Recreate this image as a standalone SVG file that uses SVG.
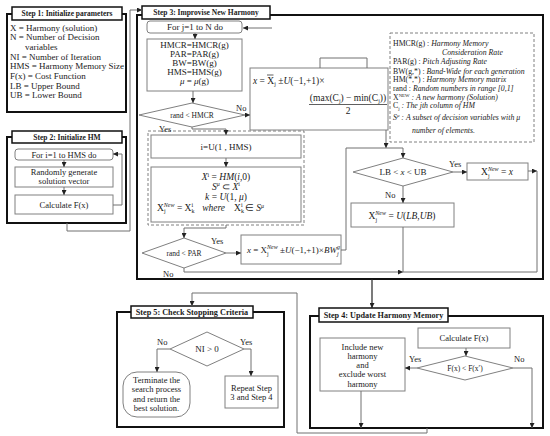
<svg xmlns="http://www.w3.org/2000/svg" width="550" height="436" viewBox="0 0 550 436">
<defs>
<marker id="ah" markerWidth="5" markerHeight="5" refX="5" refY="2.5" orient="auto" markerUnits="userSpaceOnUse"><path d="M0,0 L5,2.5 L0,5 z" fill="#222"/></marker>
<style>
text{font-family:"Liberation Serif",serif;fill:#1a1a1a;font-size:9px}
.tt{font-weight:bold;font-size:7.5px;text-anchor:middle}
.tt2{font-weight:bold;font-size:8.2px;text-anchor:middle}
.step{fill:none;stroke:#111;stroke-width:2}
.title{fill:#fff;stroke:#111;stroke-width:1.5}
.box{fill:#fff;stroke:#808080;stroke-width:1}
.dash{fill:none;stroke:#808080;stroke-width:1;stroke-dasharray:3,2}
.c{fill:none;stroke:#707070;stroke-width:1}
.ca{marker-end:url(#ah)}
.mid{text-anchor:middle}
.s85{font-size:8.5px}
.s75{font-size:7.5px}
.i{font-style:italic}
.sb{font-size:6px}
.lg{font-size:7.8px}
.m{font-size:9.5px}
</style>
</defs>
<rect width="550" height="436" fill="#fff"/>

<g id="step1">
<rect class="step" x="7" y="14" width="119" height="98"/>
<rect class="title" x="12" y="7" width="110" height="13"/>
<text class="tt" x="67" y="16.3">Step 1: Initialize parameters</text>
<text x="10" y="31.3">X = Harmony (solution)</text>
<text x="10" y="40.3">N = Number of Decision</text>
<text x="25" y="49.7">variables</text>
<text x="10" y="59.7">NI = Number of  Iteration</text>
<text x="10" y="69.3">HMS = Harmony Memory Size</text>
<text x="10" y="79">F(x) = Cost Function</text>
<text x="10" y="89">LB = Upper Bound</text>
<text x="10" y="98">UB = Lower Bound</text>
</g>

<g id="step2">
<rect class="step" x="7" y="137" width="119" height="86"/>
<rect class="title" x="12" y="131" width="110" height="12"/>
<text class="tt" x="67" y="139.8">Step 2: Initialize HM</text>
<rect class="box" x="15" y="149" width="98" height="11" rx="3"/>
<text class="mid s85" x="64" y="157.5">For i=1 to HMS do</text>
<rect class="box" x="15" y="167" width="98" height="20"/>
<text class="mid s85" x="64" y="174.7">Randomly generate</text>
<text class="mid s85" x="64" y="183.5">solution vector</text>
<rect class="box" x="15" y="195" width="98" height="19"/>
<text class="mid s85" x="64" y="207.5">Calculate F(x)</text>
</g>

<g id="step3">
<rect class="step" x="137" y="15" width="406" height="264"/>
<rect class="title" x="142" y="6" width="128" height="13"/>
<text class="tt" x="206" y="15.3">Step 3: Improvise New Harmony</text>

<g id="forj">
<rect class="box" x="147" y="21" width="95" height="12" rx="3"/>
<text class="mid" x="195" y="30">For j=1 to N do</text>
</g>
<g id="params">
<rect class="box" x="147" y="39" width="95" height="52"/>
<text class="mid" x="194.5" y="48">HMCR=HMCR(g)</text>
<text class="mid" x="194.5" y="57">PAR=PAR(g)</text>
<text class="mid" x="194.5" y="66">BW=BW(g)</text>
<text class="mid" x="194.5" y="75">HMS=HMS(g)</text>
<text class="mid" x="194.5" y="84"><tspan class="i">μ</tspan> = <tspan class="i">μ</tspan>(g)</text>
</g>
<g id="dHMCR">
<polygon class="box" points="192,103 245,115 192,127 139,115"/>
<text class="mid s75" x="192" y="117.5">rand &lt; HMCR</text>
</g>
<g id="xrand">
<rect class="box" x="250" y="68" width="138" height="62"/>
<text class="m" x="253" y="84"><tspan class="i">x</tspan> = X<tspan class="sb" dy="2">j</tspan><tspan dy="-2"> ±</tspan><tspan class="i">U</tspan>(−1,+1)×</text>
<line x1="267" y1="75" x2="273.5" y2="75" stroke="#1a1a1a" stroke-width="0.7"/>
<text class="m mid" x="348" y="101">(max(C<tspan class="sb" dy="2">j</tspan><tspan dy="-2">) − min(C</tspan><tspan class="sb" dy="2">j</tspan><tspan dy="-2">))</tspan></text>
<line x1="309" y1="104.5" x2="387" y2="104.5" stroke="#1a1a1a" stroke-width="0.7"/>
<text class="m mid" x="348" y="114">2</text>
</g>
<g id="legend">
<rect class="dash" x="390" y="33" width="144" height="109"/>
<text class="lg" x="393" y="45.5">HMCR(g) : <tspan class="i">Harmony Memory</tspan></text>
<text class="lg i" x="442" y="54.5">Consideration Rate</text>
<text class="lg" x="393" y="63.5">PAR(g) : <tspan class="i">Pitch Adjusting Rate</tspan></text>
<text class="lg" x="393" y="73.5">BW(g,*) : <tspan class="i">Band-Wide for each generation</tspan></text>
<text class="lg" x="393" y="81.5">HM(*,*) : <tspan class="i">Harmony Memory matrix</tspan></text>
<text class="lg" x="393" y="90.5">rand : <tspan class="i">Random numbers in range [0,1]</tspan></text>
<text class="lg" x="393" y="99.5">X<tspan font-size="4.8" dy="-3">NEW</tspan><tspan dy="3" class="i"> : A new harmony (Solution)</tspan></text>
<text class="lg" x="393" y="108">C<tspan font-size="5" dy="2">j</tspan><tspan dy="-2" class="i"> : The jth column of HM</tspan></text>
<text class="lg i" x="393" y="120">S<tspan font-size="5" dy="-3">μ</tspan><tspan dy="3"> : A subset of decision variables with μ</tspan></text>
<text class="lg i" x="412" y="133">number of elements.</text>
</g>
<g id="sel">
<rect class="dash" x="148" y="131" width="156" height="94"/>
<rect class="box" x="151" y="135" width="150" height="23"/>
<text class="mid" x="226" y="149.5">i=U(1 , HMS)</text>
<rect class="box" x="151" y="167" width="150" height="55"/>
<text class="m mid" x="226" y="180"><tspan class="i">X</tspan><tspan class="sb" dy="-3.5">i</tspan><tspan dy="3.5"> = </tspan><tspan class="i">HM</tspan>(<tspan class="i">i</tspan>,0)</text>
<text class="m mid" x="226" y="189.5"><tspan class="i">S</tspan><tspan class="sb i" dy="-3.5">μ</tspan><tspan dy="3.5"> ⊂ </tspan><tspan class="i">X</tspan><tspan class="sb" dy="-3.5">i</tspan></text>
<text class="m mid" x="226" y="199.5"><tspan class="i">k</tspan> = <tspan class="i">U</tspan>(1, <tspan class="i">μ</tspan>)</text>
<text class="m" x="157" y="211">X<tspan class="sb" dy="2">j</tspan><tspan class="sb i" dx="-1.7" dy="-6">New</tspan><tspan dy="4"> = X</tspan><tspan class="sb" dy="2">k</tspan><tspan class="sb" dx="-3" dy="-6">i</tspan><tspan class="i" dx="9" dy="4">where</tspan><tspan dx="9">X</tspan><tspan class="sb" dy="2">k</tspan><tspan class="sb" dx="-3" dy="-6">i</tspan><tspan dy="4"> ∈ </tspan><tspan class="i">S</tspan><tspan class="sb i" dy="-3.5">μ</tspan></text>
</g>
<g id="dPAR">
<polygon class="box" points="184,238 226,253 184,268 142,253"/>
<text class="mid s75" x="184" y="255.5">rand &lt; PAR</text>
</g>
<g id="xbw">
<rect class="box" x="241" y="235" width="100" height="29"/>
<text x="247" y="253"><tspan class="i">x</tspan> = X<tspan class="sb" dy="2.5">j</tspan><tspan class="sb i" dx="-1.7" dy="-6.5">New</tspan><tspan dy="4"> ±</tspan><tspan class="i">U</tspan>(−1,+1)×<tspan class="i">BW</tspan><tspan class="sb i" dy="2.5">j</tspan><tspan class="sb i" dx="-1.7" dy="-6.5">g</tspan></text>
</g>
<g id="dLB">
<polygon class="box" points="403,158 453,172 403,186 353,172"/>
<text class="mid" x="403" y="174.5" font-size="7">LB &lt; <tspan class="i">x</tspan> &lt; UB</text>
</g>
<g id="xnew">
<rect class="box" x="467" y="163" width="61" height="17"/>
<text class="m mid" x="497" y="175">X<tspan class="sb" dy="2.5">j</tspan><tspan class="sb i" dx="-1.7" dy="-6.5">New</tspan><tspan dy="4"> = </tspan><tspan class="i">x</tspan></text>
</g>
<g id="xu">
<rect class="box" x="351" y="203" width="103" height="24"/>
<text class="m mid" x="402" y="219">X<tspan class="sb" dy="2.5">j</tspan><tspan class="sb i" dx="-1.7" dy="-6.5">New</tspan><tspan dy="4"> = </tspan><tspan class="i">U</tspan>(<tspan class="i">LB</tspan>,<tspan class="i">UB</tspan>)</text>
</g>
</g>

<g id="step4">
<rect class="step" x="310" y="316" width="233" height="112"/>
<rect class="title" x="319" y="308" width="129" height="14"/>
<text class="tt2" x="383.5" y="318">Step 4: Update Harmony Memory</text>
<rect class="box" x="418" y="328" width="92" height="20"/>
<text class="mid s85" x="464" y="341">Calculate F(x)</text>
<polygon class="box" points="465,356 513,368 465,380 417,368"/>
<text class="mid s75" x="465" y="370.5">F(x) &lt; F(x′)</text>
<rect class="box" x="320" y="338" width="85" height="53"/>
<text class="mid s85" x="362.5" y="350">Include new</text>
<text class="mid s85" x="362.5" y="359">harmony</text>
<text class="mid s85" x="362.5" y="368">and</text>
<text class="mid s85" x="362.5" y="377">exclude worst</text>
<text class="mid s85" x="362.5" y="387">harmony</text>
</g>

<g id="step5">
<rect class="step" x="117" y="312" width="167" height="115"/>
<rect class="title" x="131" y="306" width="122" height="12"/>
<text class="tt2" x="192" y="315">Step 5: Check Stopping Criteria</text>
<polygon class="box" points="207,332 244,349 207,366 170,349"/>
<text class="mid" x="207" y="352" font-size="8">NI &gt; 0</text>
<rect class="box" x="123" y="372" width="67" height="45" rx="14"/>
<text class="mid s85" x="156.5" y="383">Terminate the</text>
<text class="mid s85" x="156.5" y="392">search process</text>
<text class="mid s85" x="156.5" y="402">and return the</text>
<text class="mid s85" x="156.5" y="411">best solution.</text>
<rect class="box" x="225" y="376" width="53" height="32"/>
<text class="mid s85" x="251.5" y="391">Repeat Step</text>
<text class="mid s85" x="251.5" y="400">3 and Step 4</text>
</g>

<g id="connectors">
<path class="c ca" d="M64,160 V167"/>
<path class="c ca" d="M64,187 V195"/>
<path class="c ca" d="M113,205 H122 V154 H113"/>
<path class="c ca" d="M67,223 V231 H130 V10 H142"/>
<path class="c ca" d="M272,28 H243"/>
<path class="c ca" d="M195,33 V39"/>
<path class="c ca" d="M193,91 V103"/>
<path class="c ca" d="M245,115 H250"/>
<path class="c" d="M320,68 V58 H367 V68"/>
<path class="c ca" d="M192,127 V129 H226 V135"/>
<path class="c ca" d="M226,158 V167"/>
<path class="c ca" d="M226,225 V228 H184 V238"/>
<path class="c ca" d="M226,253 H241"/>
<path class="c ca" d="M386,130 V148"/>
<path class="c ca" d="M341,250 H346 V148 H403 V158"/>
<path class="c ca" d="M453,172 H467"/>
<path class="c ca" d="M403,186 V203"/>
<path class="c ca" d="M528,171 H537"/>
<path class="c ca" d="M184,268 V272 H403"/>
<path class="c" d="M403,227 V272 H537 V171"/>
<path fill="none" stroke="#222" stroke-width="1.2" marker-end="url(#ah)" d="M372,279 V308"/>
<path class="c ca" d="M466,348 V356"/>
<path class="c ca" d="M417,368 H405"/>
<path class="c ca" d="M361,391 V428"/>
<path class="c ca" d="M513,368 H532 V428"/>
<path class="c ca" d="M170,349 H157 V372"/>
<path class="c ca" d="M244,349 H251 V376"/>
<path class="c ca" d="M427,428 V433 H297 V293 H192 V306"/>
<text class="s85" x="236" y="110.5">No</text>
<text class="s85" x="159" y="132">Yes</text>
<text class="s85" x="211" y="244">Yes</text>
<text class="s85" x="163" y="277">No</text>
<text class="s85" x="449" y="167">Yes</text>
<text class="s85" x="385" y="197.5">No</text>
<text class="s85" x="157" y="345">No</text>
<text class="s85" x="240" y="345">Yes</text>
<text class="s85" x="409" y="362">Yes</text>
<text class="s85" x="514" y="362">No</text>
</g>
</svg>
